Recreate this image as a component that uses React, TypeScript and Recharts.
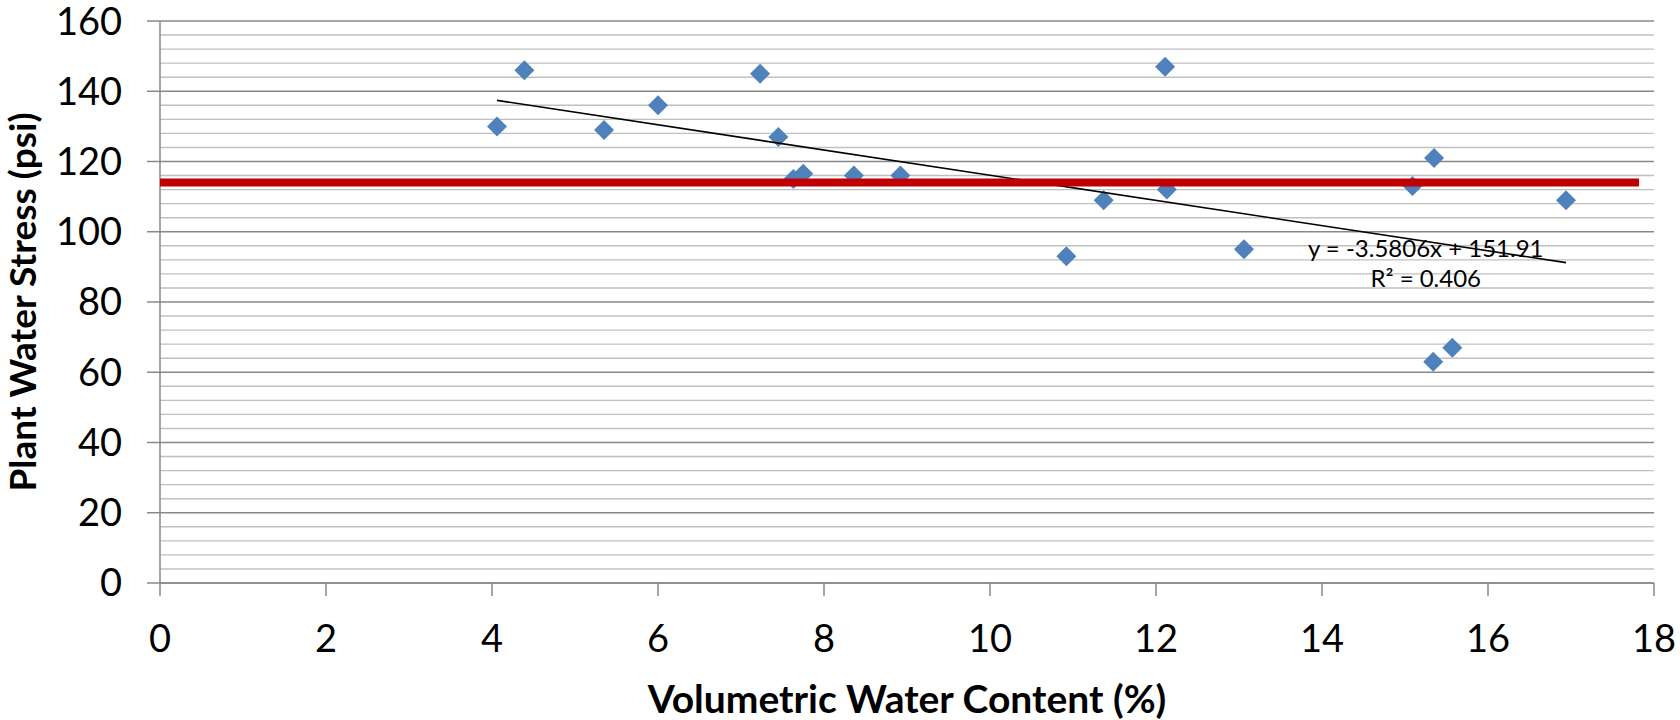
import React from 'react';
import { ScatterChart, Scatter, XAxis, YAxis, CartesianGrid } from 'recharts';

// Measured points: volumetric water content (%) vs plant water stress (psi)
const waterContent = [4.06, 4.39, 5.35, 6.0, 7.23, 7.45, 7.63, 7.75, 8.36, 8.92, 10.92, 11.37, 12.11, 12.13, 13.06, 15.09, 15.35, 15.34, 15.57, 16.94];
const waterStress = [130, 146, 129, 136, 145, 127, 115, 116.5, 116, 116, 93, 109, 147, 112, 95, 113, 121, 63, 67, 109];

// Linear trendline endpoints (as drawn)
const trendX = [4.06, 16.94];
const trendY = [137.4, 91.2];

// Threshold line (red)
const thresholdX = [0, 17.82];
const thresholdY = [114, 114];

// Axis ticks
const xTicks = [0, 2, 4, 6, 8, 10, 12, 14, 16, 18];
const yTicks = [0, 20, 40, 60, 80, 100, 120, 140, 160];
const yMinorStep = 4;

const trendLabel1 = 'y = -3.5806x + 151.91';
const trendLabel2 = 'R² = 0.406';
const trendLabelPos = { x: 15.25, y: 92.9 };

const points = waterContent.map((x, i) => ({ x, y: waterStress[i] }));
const trendData = trendX.map((x, i) => ({ x, y: trendY[i] }));
const thresholdData = thresholdX.map((x, i) => ({ x, y: thresholdY[i] }));
const minorValues: number[] = [];
for (let v = 0; v <= 160; v += yMinorStep) {
  if (v % 20 !== 0) minorValues.push(v);
}

const FONT = 'Lato, "Open Sans", sans-serif';
const tickStyle = { fontFamily: FONT, fontSize: 38, fill: '#000' };

const Diamond = (props: any) => {
  const { cx, cy } = props;
  if (cx == null || cy == null) return <g />;
  const r = 10;
  return (
    <polygon
      points={`${cx},${cy - r} ${cx + r},${cy} ${cx},${cy + r} ${cx - r},${cy}`}
      fill="#4F81BD"
    />
  );
};

const NoShape = () => <g />;

const TrendText = (props: any) => {
  const { cx, cy } = props;
  if (cx == null || cy == null) return <g />;
  return (
    <g>
      <text x={cx} y={cy} textAnchor="middle" fontFamily={FONT} fontSize={24} fill="#000">
        {trendLabel1}
      </text>
      <text x={cx} y={cy + 30.5} textAnchor="middle" fontFamily={FONT} fontSize={24} fill="#000">
        {trendLabel2}
      </text>
    </g>
  );
};

export default function App() {
  return (
    <div style={{ position: 'absolute', left: 0, top: 0, width: 1680, height: 720, background: '#fff' }}>
      <ScatterChart width={1680} height={720} margin={{ top: 21, right: 26, bottom: 0, left: 0 }}>
        <CartesianGrid vertical={false} horizontalValues={minorValues} stroke="#c0c0c0" strokeWidth={1.4} />
        <CartesianGrid vertical={false} horizontalValues={yTicks} stroke="#888888" strokeWidth={1.4} />
        <XAxis
          type="number"
          dataKey="x"
          domain={[0, 18]}
          ticks={xTicks}
          interval={0}
          height={137}
          tickSize={13}
          tickMargin={29}
          tick={tickStyle}
          axisLine={{ stroke: '#888888', strokeWidth: 1.5 }}
          tickLine={{ stroke: '#888888', strokeWidth: 1.5 }}
          label={{
            content: (p: any) => {
              const vb = p.viewBox || {};
              return (
                <text
                  x={vb.x + vb.width / 2}
                  y={vb.y + 130}
                  textAnchor="middle"
                  fontFamily={FONT}
                  fontWeight="bold"
                  fontSize={39}
                  fill="#000"
                >
                  Volumetric Water Content (%)
                </text>
              );
            },
          }}
        />
        <YAxis
          type="number"
          dataKey="y"
          domain={[0, 160]}
          ticks={yTicks}
          interval={0}
          width={160}
          tickSize={13}
          tickMargin={25}
          tick={tickStyle}
          axisLine={{ stroke: '#888888', strokeWidth: 1.5 }}
          tickLine={{ stroke: '#888888', strokeWidth: 1.5 }}
          label={{
            content: (p: any) => {
              const vb = p.viewBox || {};
              const cx = vb.x + 36;
              const cy = vb.y + vb.height / 2;
              return (
                <text
                  x={cx}
                  y={cy}
                  transform={`rotate(-90, ${cx}, ${cy})`}
                  textAnchor="middle"
                  fontFamily={FONT}
                  fontWeight="bold"
                  fontSize={37}
                  fill="#000"
                >
                  Plant Water Stress (psi)
                </text>
              );
            },
          }}
        />
        <Scatter data={points} shape={Diamond} isAnimationActive={false} />
        <Scatter
          data={trendData}
          line={{ stroke: '#000', strokeWidth: 1.6 }}
          lineType="joint"
          shape={NoShape}
          isAnimationActive={false}
        />
        <Scatter
          data={thresholdData}
          line={{ stroke: '#C00000', strokeWidth: 8 }}
          lineType="joint"
          shape={NoShape}
          isAnimationActive={false}
        />
        <Scatter data={[trendLabelPos]} shape={TrendText} isAnimationActive={false} />
      </ScatterChart>
    </div>
  );
}
